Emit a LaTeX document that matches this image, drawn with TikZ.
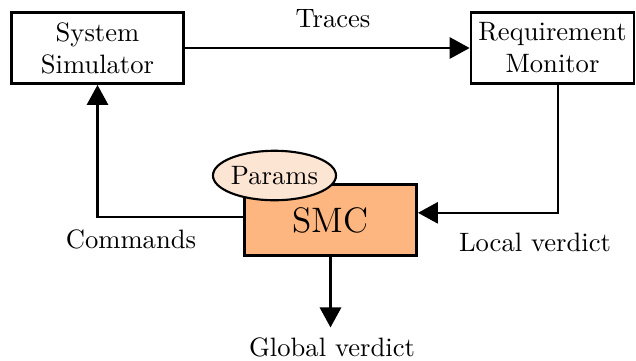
\documentclass[tikz,border=0pt]{standalone}
\usetikzlibrary{arrows.meta,positioning,shapes.geometric}
\definecolor{smcfill}{RGB}{253,182,128}
\definecolor{paramfill}{RGB}{253,229,212}

\begin{document}
\begin{tikzpicture}[x=0.01322cm,y=-0.01322cm,-{Triangle[length=7.5pt,width=8pt]},thick,
    box node/.style={draw,line width=1pt,rectangle,minimum height=26.8pt,align=center,inner xsep=2.8pt},
    param node/.style={draw,thick,ellipse,fill=paramfill,minimum width=45.5pt,minimum height=18.6pt,inner sep=0pt}]

    \useasboundingbox (0,0) rectangle (636,360);

    \node[box node,minimum width=64.8pt] (sim) at (97.5,48) {System\\Simulator};
    \node[box node] (mon) at (552.5,48) {Requirement\\Monitor};

    \node[box node,fill=smcfill,minimum width=64.8pt,font=\fontsize{13.3}{15}\selectfont] (smc) at (330.5,220) {SMC};
    \node[param node] (params) at (274.5,175.5) {Params};

    \node (traces) at (333,18.5) {Traces};
    \node (cmd) at (131,239) {Commands};
    \node (local) at (535,242.5) {Local verdict};
    \node (global) at (332,347) {Global verdict};

    \draw (sim) -- (mon);
    \draw ([yshift=1.1pt]smc.west) -| (sim.south);
    \draw ([xshift=2pt]mon.south) |- ([yshift=2.7pt]smc.east);
    \draw (smc.south) -- (smc.south |- global.north);
\end{tikzpicture}
\end{document}
